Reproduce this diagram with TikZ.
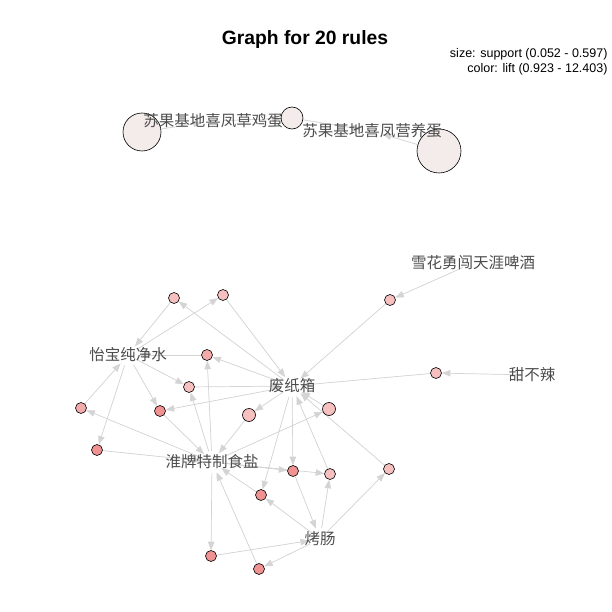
\documentclass[tikz,border=0pt]{standalone}
\usepackage{fontspec}
\setmainfont{Liberation Sans}
\newfontfamily\cjk{Noto Sans CJK SC}
\usepackage{tikz}
\usetikzlibrary{arrows.meta, backgrounds}

\definecolor{liftlow}{RGB}{244,236,234}
\definecolor{liftmid}{RGB}{246,192,192}
\definecolor{lifthigh}{RGB}{243,170,170}
\definecolor{lifttop}{RGB}{240,146,146}

\begin{document}
\begin{tikzpicture}[x=1pt, y=-1pt,
  rule/.style={circle, draw=black, line width=0.6pt, inner sep=0pt, minimum size=11pt},
  item/.style={circle, inner sep=0pt, minimum size=22pt},
  itemtext/.style={text=black!70, font=\cjk\fontsize{15.5}{16}\selectfont},
  edge/.style={-{Triangle[length=8.5pt,width=6.5pt]}, draw=black!17, fill=black!17, line width=0.7pt}]
  \useasboundingbox (0,0) rectangle (612,612);
  \node[font=\bfseries\fontsize{19.3}{21}\selectfont] (title) at (305,40) {Graph for 20 rules};
  \node[anchor=east, font=\fontsize{12.5}{14}\selectfont] (legsize) at (611,54) {size: support (0.052 - 0.597)};
  \node[anchor=east, font=\fontsize{12.5}{14}\selectfont] (legcolor) at (611,69) {color: lift (0.923 - 12.403)};
  % rules
  \node[rule, fill=liftlow, minimum size=38pt] (A) at (142,132) {};
  \node[rule, fill=liftlow, minimum size=22pt] (B) at (292,118) {};
  \node[rule, fill=liftlow, minimum size=44pt] (C) at (439,151) {};
  \node[rule, fill=liftmid] (R1) at (174,298) {};
  \node[rule, fill=liftmid] (R2) at (223,295) {};
  \node[rule, fill=liftmid] (R3) at (390,300) {};
  \node[rule, fill=lifthigh] (R4) at (207,355) {};
  \node[rule, fill=liftmid] (R5) at (189,387) {};
  \node[rule, fill=lifttop] (R6) at (160,411) {};
  \node[rule, fill=lifthigh] (R7) at (81,408) {};
  \node[rule, fill=lifttop] (R8) at (97,450) {};
  \node[rule, fill=liftmid, minimum size=13pt] (R9) at (249,415) {};
  \node[rule, fill=liftmid, minimum size=13pt] (R10) at (329,409) {};
  \node[rule, fill=liftmid] (R11) at (436,373) {};
  \node[rule, fill=lifttop] (R12) at (293,471) {};
  \node[rule, fill=liftmid] (R13) at (330,474) {};
  \node[rule, fill=liftmid] (R14) at (389,469) {};
  \node[rule, fill=lifttop] (R15) at (261,495) {};
  \node[rule, fill=lifttop] (R16) at (211,556) {};
  \node[rule, fill=lifttop] (R17) at (259,569) {};
  % items
  \node[item, label={[itemtext]center:苏果基地喜凤草鸡蛋}] (E1) at (213,121) {};
  \node[item, label={[itemtext]center:苏果基地喜凤营养蛋}] (E2) at (372,131) {};
  \node[item, label={[itemtext]center:雪花勇闯天涯啤酒}] (X) at (473,263) {};
  \node[item, label={[itemtext]center:甜不辣}] (T) at (532,375) {};
  \node[item, label={[itemtext]center:怡宝纯净水}] (W) at (128,355) {};
  \node[item, label={[itemtext]center:废纸箱}] (P) at (292,386) {};
  \node[item, label={[itemtext]center:淮牌特制食盐}] (S) at (212,462) {};
  \node[item, label={[itemtext]center:烤肠}] (K) at (320,539) {};
  % edges
  \begin{scope}[on background layer]
    \foreach \a/\b in {A/E1, E1/B, B/E2, C/E2, X/R3, R3/P, T/R11, R11/P,
      P/R1, R1/W, W/R2, R2/P, P/R4, S/R4, R4/W, W/R5, S/R5, R5/P,
      W/R6, P/R6, R6/S, S/R7, R7/W, W/R8, R8/S, P/R9, R9/S, S/R10, R10/P,
      S/R12, P/R12, R12/K, S/R13, K/R13, R13/P, K/R14, R14/P,
      P/R15, K/R15, R15/S, S/R16, R16/K, K/R17, R17/S}
      \draw[edge] (\a) -- (\b);
  \end{scope}
\end{tikzpicture}
\end{document}
